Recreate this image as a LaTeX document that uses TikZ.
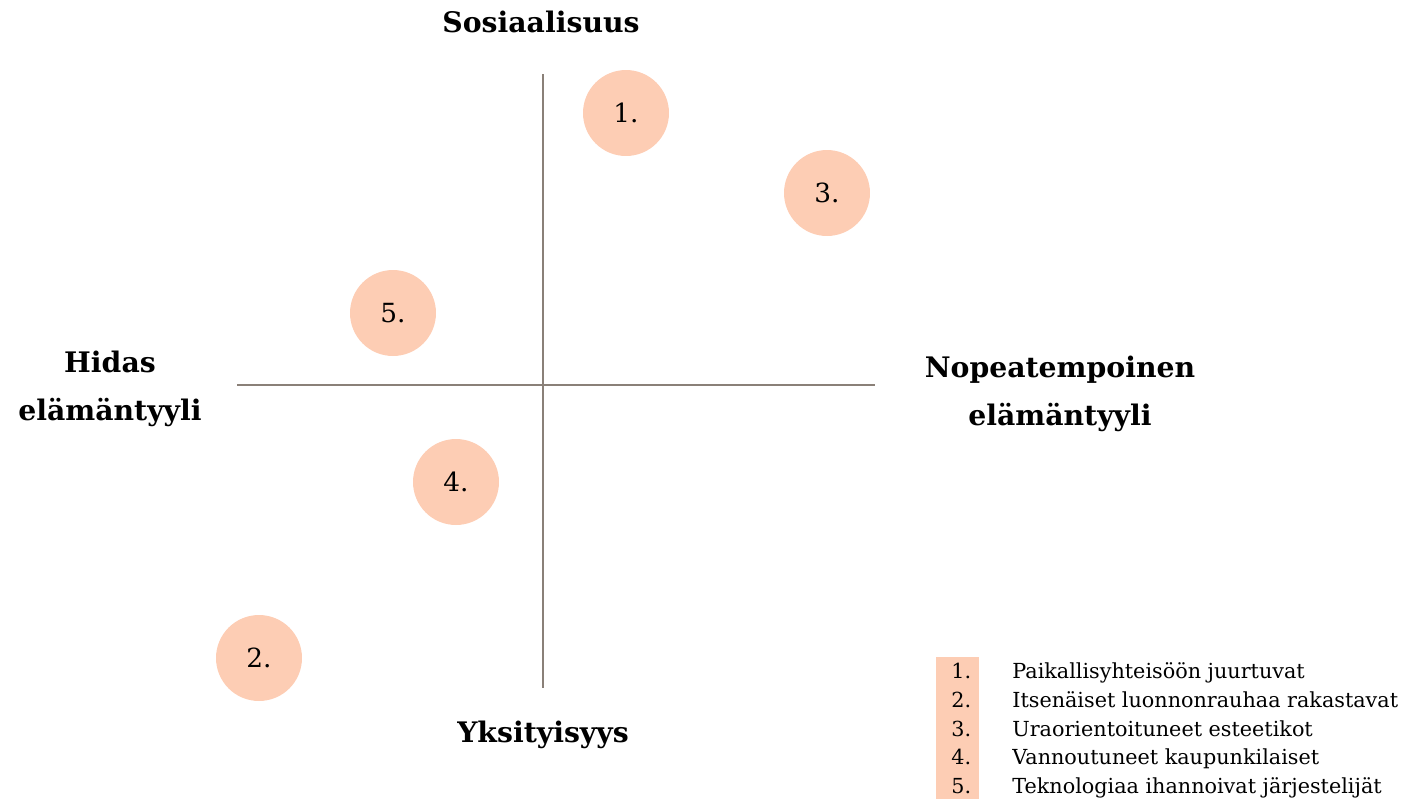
\documentclass[tikz,border=0pt]{standalone}
\usepackage{fontspec}
\setmainfont{DejaVu Serif}
\usetikzlibrary{positioning}

\definecolor{peach}{RGB}{253,205,180}
\definecolor{axisgray}{RGB}{138,128,120}

\begin{document}
\begin{tikzpicture}[x=0.02cm, y=-0.02cm,
    seg/.style={circle, fill=peach, minimum size=1.72cm, inner sep=0pt,
                font=\fontsize{15}{15}\selectfont},
    axis/.style={draw=axisgray, line width=0.9pt},
    pole/.style={font=\bfseries\fontsize{16.1}{18}\selectfont, anchor=base, inner sep=0pt},
    keynum/.style={font=\fontsize{11.8}{12}\selectfont, anchor=base west, inner sep=0pt},
    keytext/.style={font=\fontsize{11.8}{12}\selectfont, anchor=base west, inner sep=0pt}]
    \useasboundingbox (0,0) rectangle (1418,799);

    % axes
    \coordinate (top)    at (543,74);
    \coordinate (bottom) at (543,688);
    \coordinate (left)   at (237,385);
    \coordinate (right)  at (875,385);
    \draw[axis] (top) -- (bottom);
    \draw[axis] (left) -- (right);

    % pole labels
    \node [pole] (sos)  at (541,32)   {Sosiaalisuus};
    \node [pole] (yks)  at (543,742)  {Yksityisyys};
    \node [pole] (hid1) at (110,372)  {Hidas};
    \node [pole] (hid2) at (110,420)  {elämäntyyli};
    \node [pole] (nop1) at (1060,377) {Nopeatempoinen};
    \node [pole] (nop2) at (1060,425) {elämäntyyli};

    % segments
    \node [seg] (s1) at (626,113) {1.};
    \node [seg] (s2) at (259,658) {2.};
    \node [seg] (s3) at (827,193) {3.};
    \node [seg] (s4) at (456,482) {4.};
    \node [seg] (s5) at (393,313) {5.};

    % legend
    \fill [peach] (936,657) rectangle (979,799);
    \node [keynum]  (k1) at (951,678)   {1.};
    \node [keynum]  (k2) at (951,707)   {2.};
    \node [keynum]  (k3) at (951,736)   {3.};
    \node [keynum]  (k4) at (951,764)   {4.};
    \node [keynum]  (k5) at (951,793)   {5.};
    \node [keytext] (t1) at (1012,678)  {Paikallisyhteisöön juurtuvat};
    \node [keytext] (t2) at (1012,707)  {Itsenäiset luonnonrauhaa rakastavat};
    \node [keytext] (t3) at (1012,736)  {Uraorientoituneet esteetikot};
    \node [keytext] (t4) at (1012,764)  {Vannoutuneet kaupunkilaiset};
    \node [keytext] (t5) at (1012,793)  {Teknologiaa ihannoivat järjestelijät};
\end{tikzpicture}
\end{document}
